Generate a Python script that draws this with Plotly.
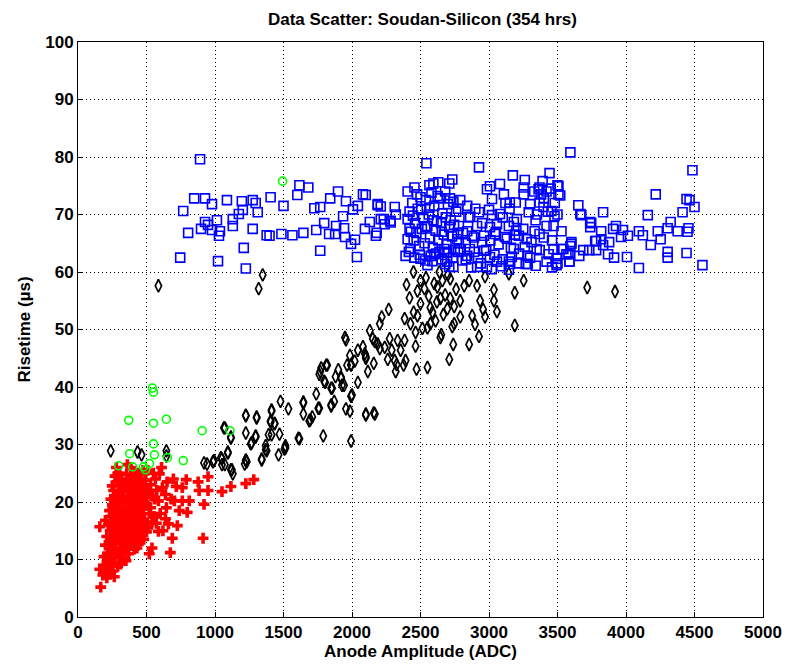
import plotly.graph_objects as go

# ---------------- data ----------------
green_x = [1493, 543, 551, 551, 370, 645, 551, 377, 558, 652, 768, 906, 1109, 297, 399, 478, 522, 493]
green_y = [75.8, 39.8, 39.1, 33.7, 34.2, 34.4, 30.1, 28.4, 28.2, 27.7, 27.2, 32.4, 32.4, 26.3, 26.1, 26.1, 26.7, 25.6]

red_pts = [
    (159,15.7),(166,5.2),(159,8.3),(181,7.3),(195,7.8),(205,9.0),(210,6.8),(220,8.5),(215,11.0),(230,10.2),
    (225,12.5),(240,9.5),(245,13.8),(235,15.0),(250,11.5),(255,16.5),(260,14.0),(265,10.8),(270,18.0),(275,12.8),
    (280,15.5),(285,20.0),(290,13.5),(295,17.2),(300,22.0),(305,11.5),(310,19.0),(315,14.8),(320,24.0),(325,16.8),
    (330,21.0),(335,12.2),(340,18.5),(345,23.0),(350,15.8),(355,20.5),(360,26.5),(365,13.5),(370,17.8),(375,22.5),
    (380,19.5),(385,15.0),(390,24.5),(395,21.5),(400,17.0),(405,13.0),(410,20.0),(415,23.5),(420,18.2),(425,15.5),
    (430,22.0),(435,25.0),(440,19.0),(445,16.5),(450,21.5),(455,13.8),(460,24.0),(470,18.8),(480,22.5),(490,16.0),
    (500,20.8),(510,25.5),(520,18.0),(530,23.0),(545,21.0),(555,17.5),(565,24.0),(572,16.3),(587,20.2),(587,14.9),
    (594,24.9),(616,22.5),(638,17.1),(638,21.3),(645,19.0),(674,11.2),(688,13.7),(696,24.0),(703,20.2),(717,22.7),
    (725,15.9),(739,18.5),(761,22.5),(761,20.2),(790,23.9),(797,18.2),(812,20.2),(877,23.5),(884,22.0),(913,13.7),
    (920,19.6),(949,24.4),(949,22.0),(1051,21.8),(1116,22.7),(1225,23.2),(1283,23.9),
    (260,12.0),(270,9.5),(280,11.0),(290,8.8),(300,10.5),(310,9.2),(320,11.8),(330,10.0),(340,13.2),(350,9.8),
    (360,12.0),(370,11.0),(380,13.8),(390,12.5),(400,14.5),(410,11.8),(420,13.0),(430,15.8),(440,12.6),(450,14.2),
    (460,17.5),(470,15.2),(480,13.5),(490,19.5),(500,14.8),
    (255,19.0),(265,21.0),(275,16.0),(285,23.5),(295,18.5),(305,25.0),(315,20.8),(325,23.2),(335,19.8),(345,17.0),
    (355,24.8),(365,21.8),(375,18.8),(385,26.0),(395,17.8),(405,22.8),(415,19.2),(425,24.5),(435,17.8),(445,22.5),
    (455,19.8),(465,21.2),(475,25.5),(485,20.0),(495,23.8),
    (200,12.5),(210,14.0),(220,16.0),(230,13.0),(240,17.5),(250,19.5),(260,22.0),(270,24.5),(280,26.0),(290,25.0),
    (300,16.0),(310,17.0),(320,18.0),(330,14.5),(340,16.0),(350,18.0),(360,15.5),(370,20.0),(380,23.8),(390,16.5),
    (400,19.8),(410,24.8),(420,21.0),(430,12.0),(440,24.0),(450,18.5),(460,21.0),(470,23.0),(480,17.0),(490,25.0),
    (275,20.5),(285,14.5),(295,21.5),(305,13.8),(315,17.8),(325,12.8),(335,22.5),(345,20.5),(355,14.0),(365,17.0),
    (375,14.2),(385,20.8),(395,14.0),(405,16.0),(415,15.0),(425,20.5),(435,14.0),(445,20.0),
    (230,18.5),(240,20.5),(250,22.8),(245,9.0),(235,7.5),(255,8.0),(265,7.0),(200,16.8),(190,10.5),(185,9.0),
    (520,22.0),(530,19.0),(540,16.5),(550,25.0),(560,20.5),(575,22.0),(600,18.0),(620,15.0),(610,26.0),(650,23.5),
    (660,16.2),(680,20.5),(540,12.0),(510,15.5),(520,11.0),
]
red_x = [p[0] for p in red_pts]
red_y = [p[1] for p in red_pts]

black_pts = [
    (239,28.9),(435,28.7),(464,28.2),(587,57.6),(645,28.9),(645,28.0),(920,26.8),(942,26.6),(985,27.0),(993,27.2),
    (1051,27.5),(1043,27.7),(1072,26.5),(1051,26.5),(1123,25.6),(1116,25.6),(1130,24.9),(1094,28.7),(1094,28.5),(1065,32.9),
    (1072,32.9),(1116,31.3),(1116,31.1),(1225,35.1),(1225,35.0),(1304,34.8),(1225,32.0),(1297,31.5),(1297,31.3),(1268,30.3),
    (1261,30.1),(1225,27.2),(1232,27.0),(1225,27.3),(1217,26.6),(1370,29.1),(1377,28.9),(1370,29.8),(1391,31.7),(1413,31.7),
    (1406,33.9),(1406,34.1),(1435,33.6),(1341,27.5),(1341,27.3),(1348,59.5),(1319,57.1),(1304,34.6),(1413,35.8),(1413,36.0),
    (1435,33.7),(1464,28.2),(1471,31.8),(1478,37.5),(1507,29.2),(1514,29.8),(1514,29.4),(1536,36.2),(1609,31.1),(1616,31.0),
    (1645,37.4),(1645,35.3),(1645,37.2),(1688,34.1),(1696,34.3),(1710,34.8),(1739,38.8),(1754,36.3),(1761,36.3),(1761,42.2),
    (1768,42.7),(1775,43.3),(1790,31.5),(1797,41.0),(1804,40.8),(1812,43.8),(1819,43.8),(1848,36.7),(1848,36.9),(1848,39.8),
    (1855,39.8),(1870,37.5),(1920,41.5),(1920,41.7),(1927,40.3),(1942,40.3),(1949,48.6),(1956,48.2),(1956,36.2),(1964,43.8),
    (1985,45.5),(1985,35.8),(1993,43.8),(1993,43.9),(1993,38.4),(1993,30.6),(2000,38.6),(2043,40.8),(2043,46.4),(2094,45.8),
    (2101,45.3),(2101,45.0),(2101,35.1),(2101,35.3),(2116,42.7),(2130,49.8),(2152,48.4),(2159,44.1),(2159,35.5),(2167,47.9),
    (2167,35.3),(2203,46.7),(2203,51.0),(2217,52.2),(2239,46.9),(2261,44.8),(2268,53.5),(2275,48.4),(2290,46.4),(2312,44.6),
    (2319,42.7),(2326,43.9),(2333,48.1),(2355,46.4),(2377,43.8),(2384,51.9),(2384,48.1),(2391,44.6),(2398,57.8),(2427,51.0),
    (2449,60.0),(2464,49.5),(2464,47.1),(2471,43.1),(2478,56.7),(2478,52.4),(2514,50.2),(2529,57.1),(2551,50.3),(2551,43.4),
    (2572,51.0),(2572,53.8),(2587,53.0),(2623,57.4),(2638,60.0),(2645,55.4),(2645,48.6),(2652,49.1),(2667,52.6),(2696,53.6),
    (2710,44.8),(2717,58.8),(2717,55.4),(2732,50.5),(2739,47.4),(2746,51.0),(2746,54.0),(2760,57.0),(2790,52.2),(2790,55.0),
    (2819,57.6),(2855,58.5),(2855,47.4),(2877,52.4),(2898,50.9),(2913,57.6),(2927,48.8),(2935,55.0),(2957,53.5),(2971,59.2),
    (2971,52.2),(3036,56.9),(3036,55.0),(3058,53.1),(3145,59.7),(3188,56.4),(3188,50.7),(3253,58.5),(3717,57.3),(3920,56.6),
    (2420,55.5),(2500,54.5),(2540,59.0),(2600,58.0),(2680,56.0),(2700,59.5),(2560,55.8),(2610,51.5),(2660,58.5),(2450,53.0),
    (2500,58.5),(2620,54.8),(2188,47.5),(2080,47.0),(2020,44.5),(1900,43.0),(1880,41.8),
]
black_x = [p[0] for p in black_pts]
black_y = [p[1] for p in black_pts]

blue_pts = [
    # sparse left part
    (891,79.6),(848,72.8),(927,72.8),(978,71.8),(1087,72.5),(1196,72.3),(1275,72.5),(1297,72.0),(1406,73.0),(1616,75.1),
    (1681,74.7),(1601,73.4),(1500,71.5),(1898,74.0),(1841,72.8),(1956,72.3),(2043,71.5),(2007,70.9),(2080,73.5),(2100,73.4),
    (1768,71.3),(1725,71.1),(2188,71.6),(2210,71.4),(2312,71.3),(768,70.6),(1203,70.8),(1174,70.1),(1312,70.4),(1014,69.0),
    (1130,69.2),(927,68.7),(949,68.2),(898,67.5),(978,67.3),(1036,67.1),(1029,66.3),(1130,68.0),(804,66.8),(1275,67.5),
    (1377,66.4),(1398,66.3),(1485,66.6),(1565,66.4),(1645,66.8),(1739,67.3),(1797,68.5),(1833,66.6),(1884,68.0),(1877,66.6),
    (1942,67.6),(1949,66.1),(1993,64.9),(2022,65.6),(1935,69.7),(2094,67.5),(2130,68.7),(2174,66.3),(2210,69.2),(2239,68.3),
    (2282,68.9),(2320,70.0),(1210,64.2),(1768,63.7),(2036,62.6),(746,62.5),(1022,61.9),(1225,60.6),
    # dense middle part
    (3594,80.8),(2543,78.9),(2927,78.2),(3174,76.8),(3442,77.2),(3261,76.0),(3391,75.8),(3500,75.1),(2732,76.1),(2710,75.4),
    (2594,75.4),(2630,75.6),(2565,75.1),(2456,74.7),(2406,74.0),(3080,75.3),(3007,74.9),(2985,74.4),(3253,74.7),(3253,73.5),
    (3109,73.5),(3369,74.7),(3420,74.0),(3507,73.5),(3152,72.1),(3195,72.1),(3120,72.0),(3022,72.7),(3369,72.1),(3398,71.3),
    (3456,70.6),(3478,69.7),(2188,71.8),(2232,69.2),(2282,68.6),(2180,66.8),(2790,72.5),(2841,71.5),(2862,69.6),(2927,70.4),
    (3022,69.9),(3080,70.1),(3290,70.4),(3203,69.2),(3181,68.7),(3145,68.0),(3058,68.3),(3007,67.8),(2913,68.0),(2841,67.1),
    (2877,66.3),(2964,66.3),(3043,66.6),(3116,66.1),(3218,66.3),(3275,65.7),(3333,67.1),(3369,66.6),(3420,68.0),(3471,68.0),
    (3529,67.1),(3529,64.0),(3471,64.0),(3435,63.1),(3493,62.3),(3580,63.1),(3587,61.8),(3493,61.2),(3348,64.0),(3261,64.4),
    (3181,64.0),(3166,62.6),(3152,61.4),(3268,61.4),(3341,61.1),(3145,60.4),(3058,61.8),(3007,62.6),(2985,60.9),(2913,60.9),
    (2964,63.7),(2891,63.5),(2841,62.8),(2790,64.0),(2768,65.7),(2780,65.0),(2710,60.9),(2740,60.9),(2681,61.4),(2674,64.0),
    (2696,63.5),(2638,63.5),(2601,63.1),(2587,61.9),(2551,61.2),(2500,62.3),(2391,62.8),(2427,64.0),(2406,65.7),(2420,67.5),
    (2406,69.2),
    (2420,70.5),(2440,72.0),(2460,68.5),(2480,71.0),(2500,73.0),(2520,69.5),(2540,72.5),(2560,70.0),(2580,73.8),(2600,71.5),
    (2620,68.8),(2640,72.8),(2660,70.2),(2680,74.0),(2700,71.8),(2720,69.0),(2740,72.2),(2760,70.5),(2780,68.0),
    (2430,67.0),(2450,65.5),(2470,66.8),(2490,64.5),(2510,67.5),(2530,65.0),(2550,68.0),(2570,66.0),(2590,64.2),(2610,67.2),
    (2630,65.5),(2650,68.5),(2670,66.5),(2690,64.8),(2710,67.8),(2730,66.2),(2750,63.8),(2770,66.8),
    (2445,69.8),(2475,73.5),(2505,70.8),(2535,67.8),(2565,71.2),(2595,69.0),(2625,73.2),(2655,67.0),(2685,69.5),(2715,72.8),
    (2745,68.2),(2775,71.0),
    (2415,63.5),(2455,62.5),(2495,63.0),(2535,62.0),(2575,62.8),(2615,63.2),(2655,62.2),(2695,61.8),(2735,62.5),(2775,63.5),
    (2805,62.0),
    (2830,65.0),(2860,64.0),(2890,66.0),(2920,62.5),(2950,65.2),(2980,63.8),(3010,65.5),(3040,63.0),(3070,64.8),(3100,62.2),
    (3130,65.8),(3160,64.2),(3190,66.5),(3220,63.2),(3250,67.5),(3280,62.8),(3310,65.2),(3340,69.0),(3370,63.8),(3400,66.0),
    (3430,70.5),(3460,65.5),
    (2850,69.5),(2900,71.0),(2950,68.5),(3000,70.8),(3050,67.0),(3100,69.5),(3150,71.0),(3200,67.2),(3300,71.8),(3350,70.0),
    (3400,72.8),(3450,74.5),(3480,72.0),(3380,73.5),(3330,74.0),
    (2810,66.8),(2830,62.2),(2870,60.8),(2940,61.5),(3020,60.5),(3090,61.0),(3220,61.5),(3300,62.5),(3420,61.8),(3460,60.8),
    # sparse right part
    (4485,77.7),(4217,73.5),(4442,72.7),(4464,72.5),(4500,71.3),(3652,71.6),(3667,70.1),(3833,70.4),(4159,69.9),(4413,70.4),
    (3507,74.9),(3520,73.3),(3500,70.0),(3739,68.7),(3739,67.8),(3819,67.1),(3906,67.5),(3927,68.0),(3978,67.3),(4014,66.3),
    (3964,66.1),(4094,67.1),(4123,66.4),(4232,67.1),(4253,65.7),(4181,64.7),(4304,67.6),(4326,68.7),(4377,67.1),(4456,67.6),
    (4449,67.0),(3819,65.7),(3775,65.4),(3877,65.2),(3833,64.7),(3601,65.2),(3594,64.5),(3688,63.8),(3732,63.8),(3782,63.8),
    (3543,64.0),(3565,63.1),(3659,62.8),(3869,63.1),(3913,62.5),(4007,62.6),(4304,63.5),(4304,62.5),(4442,63.3),(3587,61.8),
    (4094,60.7),(4558,61.2),(3500,61.5),(3674,69.9),(3746,68.5),(3601,64.9),(3782,65.4),(3283,61.4),(3145,61.8),(3362,74.4),
]
blue_x = [p[0] for p in blue_pts]
blue_y = [p[1] for p in blue_pts]

x_ticks = [0, 500, 1000, 1500, 2000, 2500, 3000, 3500, 4000, 4500, 5000]
y_ticks = [0, 10, 20, 30, 40, 50, 60, 70, 80, 90, 100]

# ---------------- figure ----------------
fig = go.Figure()
fig.add_trace(go.Scatter(x=black_x, y=black_y, mode="markers",
                         marker=dict(symbol="diamond-tall-open", size=9, color="black",
                                     line=dict(width=1.7, color="black"))))
fig.add_trace(go.Scatter(x=blue_x, y=blue_y, mode="markers",
                         marker=dict(symbol="square-open", size=9, color="#0000ff",
                                     line=dict(width=1.6, color="#0000ff"))))
fig.add_trace(go.Scatter(x=red_x, y=red_y, mode="markers",
                         marker=dict(symbol="cross", size=9, color="#ff0000",
                                     line=dict(width=0))))
fig.add_trace(go.Scatter(x=green_x, y=green_y, mode="markers",
                         marker=dict(symbol="circle-open", size=8, color="#00ff00",
                                     line=dict(width=1.6, color="#00ff00"))))

font = dict(family="Liberation Sans, Arial, sans-serif", size=17, color="black", weight="bold")
tfont = dict(family="Liberation Sans, Arial, sans-serif", size=17, color="black", weight="bold")
axis_common = dict(showgrid=True, gridcolor="#000000", griddash="1px,3px", gridwidth=1,
                   showline=True, linecolor="black", linewidth=1, mirror=True,
                   ticks="inside", ticklen=5, tickcolor="black", zeroline=False,
                   tickfont=tfont)

fig.update_layout(
    width=794, height=666,
    margin=dict(l=78, r=26, t=42, b=46),
    paper_bgcolor="white", plot_bgcolor="white",
    showlegend=False,
    title=dict(text="Data Scatter: Soudan-Silicon (354 hrs)", x=0.532, xanchor="center",
               y=0.972, yanchor="middle", font=font),
    xaxis=dict(range=[0, 5000], tickvals=x_ticks, ticktext=[str(v) for v in x_ticks],
               title=dict(text="Anode Amplitude (ADC)", font=font, standoff=0), **axis_common),
    yaxis=dict(range=[0, 100], tickvals=y_ticks, ticktext=[str(v) for v in y_ticks],
               title=dict(text="Risetime (µs)", font=font, standoff=10), **axis_common),
)

fig.write_html("out.html")
